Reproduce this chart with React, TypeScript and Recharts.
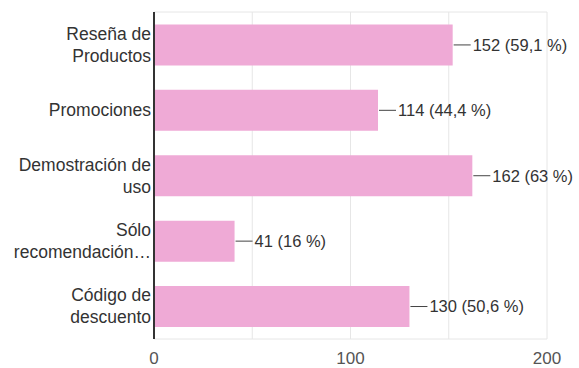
import { BarChart, Bar, XAxis, YAxis, CartesianGrid, LabelList } from "recharts";

const categories = [
    ["Reseña de", "Productos"],
    ["Promociones"],
    ["Demostración de", "uso"],
    ["Sólo", "recomendación…"],
    ["Código de", "descuento"],
];
const counts = [152, 114, 162, 41, 130];
const percents = ["59,1 %", "44,4 %", "63 %", "16 %", "50,6 %"];
const xTicks = [0, 50, 100, 150, 200];

const chartData = categories.map((lines, i) => ({
    name: lines.join(" "),
    lines,
    count: counts[i],
    label: `${counts[i]} (${percents[i]})`,
}));

const FONT = "'Liberation Sans', Arial, sans-serif";

function CategoryTick(props: any) {
    const { x, y, index } = props;
    const lines: string[] = chartData[index]?.lines ?? [];
    const lh = 22;
    const start = -((lines.length - 1) * lh) / 2;
    return (
        <g>
            {lines.map((l, i) => (
                <text
                    key={i}
                    x={x + 5}
                    y={y + start + i * lh}
                    dy="0.35em"
                    textAnchor="end"
                    fill="#333"
                    fontSize={17.5}
                    fontFamily={FONT}
                >
                    {l}
                </text>
            ))}
        </g>
    );
}

function BarLabel(props: any) {
    const { x, y, width, height, index } = props;
    const end = x + width;
    const cy = y + height / 2;
    return (
        <g>
            <line x1={end + 1} y1={cy} x2={end + 18} y2={cy} stroke="#444" strokeWidth={1} />
            <text x={end + 20} y={cy} dy="0.35em" fill="#333" fontSize={16.5} fontFamily={FONT}>
                {chartData[index].label}
            </text>
        </g>
    );
}

export default function App() {
    return (
        <div style={{ position: "absolute", left: 0, top: 0, background: "#fff" }}>
            <BarChart
                width={579}
                height={368}
                data={chartData}
                layout="vertical"
                margin={{ top: 12, right: 32, left: 0, bottom: 0 }}
                barCategoryGap="19%"
            >
                <CartesianGrid
                    stroke="#e6e6e6"
                    horizontalCoordinatesGenerator={({ offset }: any) => [offset.top, offset.top + offset.height]}
                />
                <XAxis
                    type="number"
                    domain={[0, 200]}
                    ticks={xTicks}
                    tickFormatter={(v) => (v % 100 === 0 ? `${v}` : "")}
                    axisLine={false}
                    tickLine={false}
                    tickMargin={7}
                    height={29}
                    tick={{ fill: "#555", fontSize: 17, fontFamily: FONT }}
                />
                <YAxis
                    type="category"
                    dataKey="name"
                    width={154}
                    axisLine={{ stroke: "#333", strokeWidth: 2 }}
                    tickLine={false}
                    tick={<CategoryTick />}
                    interval={0}
                />
                <Bar dataKey="count" fill="#efaad6" isAnimationActive={false}>
                    <LabelList dataKey="label" content={<BarLabel />} />
                </Bar>
            </BarChart>
        </div>
    );
}
